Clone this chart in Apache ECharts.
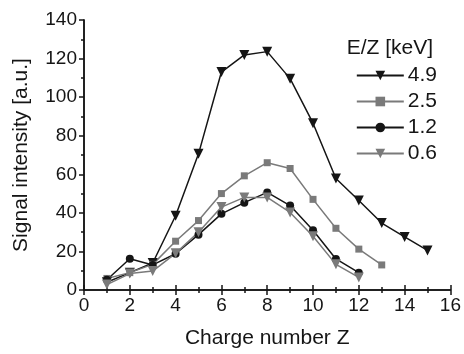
<!DOCTYPE html>
<html>
<head>
<meta charset="utf-8">
<script src="https://cdn.jsdelivr.net/npm/echarts@6/dist/echarts.min.js"></script>
<style>
  html, body { margin: 0; padding: 0; background: #fff; }
  #chart { width: 464px; height: 354px; }
</style>
</head>
<body>
<div id="chart"></div>
<script>
  // charge number Z for each series
  const z49 = [1, 2, 3, 4, 5, 6, 7, 8, 9, 10, 11, 12, 13, 14, 15]
  const v49 = [4, 9, 14, 38.5, 70.6, 113, 121.9, 123.6, 109.6, 86.5, 57.8, 46.4, 34.7, 27.5, 20.5]
  const z25 = [1, 2, 3, 4, 5, 6, 7, 8, 9, 10, 11, 12, 13]
  const v25 = [6, 9, 13.3, 25.3, 36, 50, 59.2, 66, 63, 47, 32, 21.2, 13]
  const z12 = [1, 2, 3, 4, 5, 6, 7, 8, 9, 10, 11, 12]
  const v12 = [5.3, 16.2, 13, 18.8, 28.7, 39.5, 45.3, 50.6, 43.8, 31, 16.1, 9]
  const z06 = [1, 2, 3, 4, 5, 6, 7, 8, 9, 10, 11, 12]
  const v06 = [2.8, 8.5, 9.8, 19, 30, 43, 48, 48, 40.2, 27.9, 13.3, 6.5]
  const seriesNames = ['4.9', '2.5', '1.2', '0.6']

  const black = '#151515'
  const grey = '#7a7a7a'
  const font = 'Liberation Sans, Arial, sans-serif'

  function pairs (xs, ys) {
    return xs.map((x, i) => [x, ys[i]])
  }

  function makeSeries (name, xs, ys, color, symbol, size) {
    return {
      name: name,
      type: 'line',
      data: pairs(xs, ys),
      symbol: symbol,
      symbolSize: size,
      itemStyle: { color: color },
      lineStyle: { color: color, width: 1.5 },
      emphasis: { disabled: true }
    }
  }

  const tri = 'path://M0,0 L10,0 L5,9 Z'
  const axisLine = { lineStyle: { color: black, width: 1.5 } }
  const tickStyle = { color: black, width: 1.5 }

  var myChart = echarts.init(document.getElementById('chart'))
  option = {
    animation: false,
    grid: { left: 84, right: 12, top: 20, bottom: 61 },
    title: {
      text: 'E/Z [keV]',
      right: 26,
      top: 33,
      textStyle: { fontFamily: font, fontSize: 21, fontWeight: 'normal', color: black }
    },
    legend: {
      data: seriesNames,
      orient: 'vertical',
      right: 22,
      top: 60,
      itemWidth: 47,
      itemHeight: 12,
      itemGap: 5,
      textStyle: { fontFamily: font, fontSize: 21, color: black, padding: [0, 0, 0, -1] }
    },
    xAxis: [
      {
        type: 'value',
        min: 0,
        max: 16,
        interval: 2,
        position: 'bottom',
        name: 'Charge number Z',
        nameLocation: 'middle',
        nameGap: 38,
        nameTextStyle: { fontFamily: font, fontSize: 21, color: black },
        axisLine: axisLine,
        axisTick: { show: true, inside: true, length: 5, lineStyle: tickStyle },
        minorTick: { show: true, splitNumber: 2, length: 3, lineStyle: tickStyle },
        splitLine: { show: false },
        axisLabel: { fontFamily: font, fontSize: 19, color: black, margin: 6 }
      },
      {
        type: 'value',
        min: 0,
        max: 16,
        interval: 2,
        position: 'top',
        axisLine: axisLine,
        axisTick: { show: true, inside: true, length: 5, lineStyle: tickStyle },
        minorTick: { show: true, splitNumber: 2, length: 3, lineStyle: tickStyle },
        splitLine: { show: false },
        axisLabel: { show: false }
      }
    ],
    yAxis: [
      {
        type: 'value',
        min: 0,
        max: 140,
        interval: 20,
        position: 'left',
        name: 'Signal intensity [a.u.]',
        nameLocation: 'middle',
        nameGap: 52,
        nameTextStyle: { fontFamily: font, fontSize: 21, color: black },
        axisLine: axisLine,
        axisTick: { show: true, inside: false, length: 4, lineStyle: tickStyle },
        minorTick: { show: true, splitNumber: 2, length: 3, lineStyle: tickStyle },
        splitLine: { show: false },
        axisLabel: { fontFamily: font, fontSize: 19, color: black, margin: 7 }
      },
      {
        type: 'value',
        min: 0,
        max: 140,
        interval: 20,
        position: 'right',
        axisLine: axisLine,
        axisTick: { show: true, inside: true, length: 5, lineStyle: tickStyle },
        minorTick: { show: true, splitNumber: 2, length: 3, lineStyle: tickStyle },
        splitLine: { show: false },
        axisLabel: { show: false }
      }
    ],
    series: [
      makeSeries(seriesNames[0], z49, v49, black, tri, 10),
      makeSeries(seriesNames[1], z25, v25, grey, 'rect', 7),
      makeSeries(seriesNames[2], z12, v12, black, 'circle', 8),
      makeSeries(seriesNames[3], z06, v06, grey, tri, 10)
    ]
  }
  myChart.setOption(option)
</script>
</body>
</html>
